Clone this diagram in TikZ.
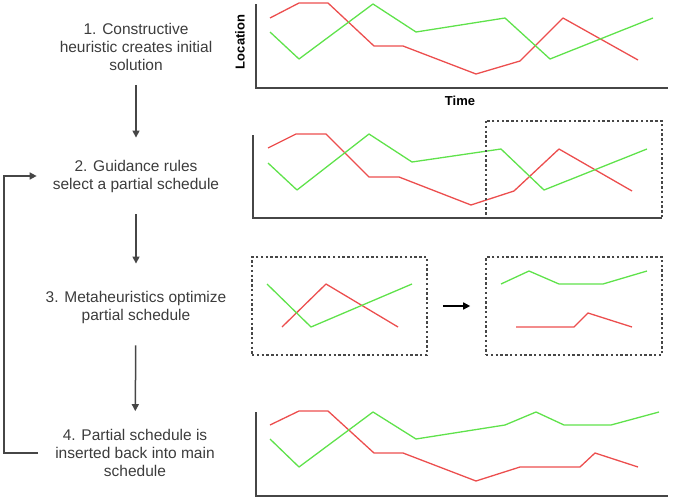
\documentclass[tikz,border=0pt]{standalone}
\usepackage{fontspec}
\setmainfont{Liberation Sans}
\usetikzlibrary{arrows.meta}
\definecolor{lred}{RGB}{236,78,78}
\definecolor{lgreen}{RGB}{95,226,75}
\definecolor{axgray}{RGB}{70,70,70}
\definecolor{txtgray}{RGB}{60,60,60}
\tikzset{
  stepbox/.style={inner sep=0pt, align=center, text=txtgray, font=\fontsize{15.5}{18}\selectfont},
  arr/.style={draw=axgray, line width=1.5pt, -{Triangle[length=7pt,width=7pt]}},
  axisln/.style={draw=axgray, line width=1.6pt},
  rl/.style={draw=lred, line width=1.3pt, line join=round},
  gl/.style={draw=lgreen, line width=1.3pt, line join=round},
  dbox/.style={draw=axgray, line width=1.6pt, dash pattern=on 2.4pt off 2.4pt},
  axlabel/.style={font=\fontsize{13}{15}\bfseries\selectfont, text=black, inner sep=0pt}
}
\begin{document}
\begin{tikzpicture}[x=1pt,y=-1pt]
\useasboundingbox (0,0) rectangle (673,498);
% step texts
\node[stepbox] (t1) at (136,47) {1. Constructive\\heuristic creates initial\\solution};
\node[stepbox] (t2) at (136,176) {2. Guidance rules\\select a partial schedule};
\node[stepbox] (t3) at (136,307) {3. Metaheuristics optimize\\partial schedule};
\node[stepbox] (t4) at (135,453) {4. Partial schedule is\\inserted back into main\\schedule};
\coordinate (fbx) at (4,0);
\draw[arr, shorten <=14pt, shorten >=22pt] (t1) -- (t2);
\draw[arr, shorten <=22pt, shorten >=27pt] (t2) -- (t3);
\draw[arr, shorten <=22pt, shorten >=18pt] (t3) -- (t4);
\draw[arr, shorten <=17pt, shorten >=16pt] (t4.west) -- (t4.west -| fbx) |- (t2.west);
% panel 1
\draw[axisln] (256,4) -- (256,88) -- (668,88);
\node[axlabel, rotate=90] (loc) at (240,42) {Location};
\node[axlabel] (time) at (460,101) {Time};
\draw[rl] (270,18) -- (299,3) -- (328,3) -- (374,46) -- (403,46) -- (476,74) -- (520,61) -- (563,18) -- (638,60);
\draw[gl] (270,32) -- (299,59) -- (373,4) -- (416,32) -- (505,18) -- (550,59) -- (653,18);
% panel 2
\draw[axisln] (253,135) -- (253,218) -- (662,218);
\draw[rl] (268,148) -- (296,134) -- (326,134) -- (369,177) -- (399,177) -- (471,205) -- (514,191) -- (559,149) -- (632,191);
\draw[gl] (268,163) -- (297,190) -- (369,134) -- (412,162) -- (501,149) -- (544,190) -- (647,149);
\draw[dbox] (486,121) rectangle (662,218);
% panel 3
\node[dbox, minimum width=175pt, minimum height=98pt] (b3l) at (339.5,306) {};
\node[dbox, minimum width=176pt, minimum height=98pt] (b3r) at (574,306) {};
\draw[rl] (282,327) -- (326,284) -- (398,327);
\draw[gl] (267,284) -- (311,327) -- (412,284);
\draw[gl] (501,284) -- (529,271) -- (559,284) -- (603,284) -- (647,271);
\draw[rl] (516,327) -- (574,327) -- (588,313) -- (632,327);
\draw[arr, draw=black, shorten <=15pt, shorten >=15pt] (b3l) -- (b3r);
% panel 4
\draw[axisln] (256,412) -- (256,496) -- (668,496);
\draw[rl] (270,425) -- (299,411) -- (328,411) -- (374,453) -- (403,453) -- (476,481) -- (520,467) -- (580,467) -- (595,453) -- (638,467);
\draw[gl] (270,439) -- (299,467) -- (373,412) -- (416,439) -- (505,425) -- (536,412) -- (564,425) -- (611,425) -- (659,412);
\end{tikzpicture}
\end{document}
